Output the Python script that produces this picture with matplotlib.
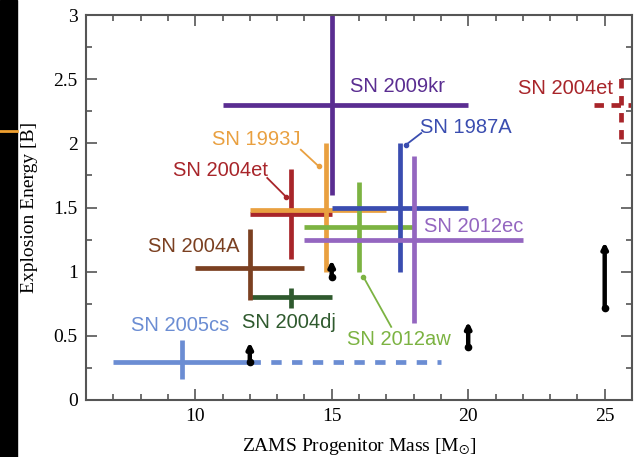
import numpy as np
import matplotlib
matplotlib.use("Agg")
import matplotlib.pyplot as plt
from matplotlib.patches import Rectangle
from matplotlib.lines import Line2D

plt.rcParams['mathtext.fontset'] = 'stix'

# progenitor mass / explosion energy estimates: centre, lower, upper
names   = ['SN 2005cs', 'SN 2004dj', 'SN 2004A', 'SN 2004et', 'SN 1993J',
           'SN 2009kr', 'SN 2012aw', 'SN 1987A', 'SN 2012ec']
mass    = [9.5, 13.5, 12.0, 13.5, 14.8, 15.0, 16.0, 17.5, 18.0]
mass_lo = [7.0, 12.0, 10.0, 12.0, 12.0, 11.0, 14.0, 15.0, 14.0]
mass_hi = [12.0, 15.0, 14.0, 15.0, 17.0, 20.0, 18.0, 20.0, 22.0]
ener    = [0.30, 0.80, 1.03, 1.45, 1.48, 2.30, 1.35, 1.50, 1.25]
ener_lo = [0.16, 0.72, 0.78, 1.10, 1.00, 1.60, 1.00, 1.00, 0.60]
ener_hi = [0.47, 0.87, 1.33, 1.80, 2.00, 3.00, 1.70, 2.00, 1.90]
colors  = ['#6b8dd3', '#2f5a2e', '#7b4021', '#a8252a', '#e9a040',
           '#5a2d91', '#7cb342', '#3a4db0', '#9466c0']

# label positions and leader lines (None = no leader)
lab_x   = [9.46, 13.43, 9.95, 10.93, 12.25, 17.4, 17.47, 19.93, 20.19]
lab_y   = [0.58, 0.60, 1.20, 1.79, 2.03, 2.44, 0.475, 2.12, 1.35]
lead    = [None, None, None,
           ((13.32, 1.585), (12.64, 1.73)),
           ((14.53, 1.82), (13.87, 1.95)),
           None,
           ((16.16, 0.96), (17.18, 0.57)),
           ((17.73, 1.99), (18.28, 2.08)),
           None]

# 2005cs extended mass range (dashed)
cs_ext = [12.0, 19.0]

# alternative 2004et estimate (dashed cross)
et2_m, et2_mlo, et2_mhi = 25.6, 24.6, 26.2
et2_e, et2_elo, et2_ehi = 2.30, 2.03, 2.55

# lower limits on explosion energy
lim_m    = [12.0, 15.0, 20.0, 25.0]
lim_base = [0.30, 0.96, 0.41, 0.72]
lim_top  = [0.45, 1.09, 0.61, 1.23]

fig = plt.figure(figsize=(6.34, 4.57), dpi=100)
ax = fig.add_axes([86/634, 57/457, 546/634, 385/457])

lw = 3.4
for i in range(len(names)):
    c = colors[i]
    ax.plot([mass_lo[i], mass_hi[i]], [ener[i], ener[i]], color=c, lw=lw,
            solid_capstyle='butt')
    ax.plot([mass[i], mass[i]], [ener_lo[i], ener_hi[i]], color=c, lw=lw,
            solid_capstyle='butt')
    ax.text(lab_x[i], lab_y[i], names[i], color=c, fontsize=14.5,
            family='Liberation Sans', ha='center', va='center')
    if lead[i] is not None:
        (x0, y0), (x1, y1) = lead[i]
        ax.plot([x0, x1], [y0, y1], color=c, lw=1.3)
        ax.plot(x0, y0, 'o', color=c, ms=3)

ax.plot(cs_ext, [ener[0], ener[0]], color=colors[0], lw=lw,
        dashes=[2.2, 2.2], dash_capstyle='butt')

red = colors[3]
ax.plot([et2_mlo, et2_mhi], [et2_e, et2_e], color=red, lw=lw,
        dashes=[2.0, 1.6], dash_capstyle='butt')
ax.plot([et2_m, et2_m], [et2_elo, et2_ehi], color=red, lw=lw,
        dashes=[2.0, 1.6], dash_capstyle='butt')
ax.text(23.57, 2.43, 'SN 2004et', color=red, fontsize=14.5,
        family='Liberation Sans', ha='center', va='center')

for m, b, t in zip(lim_m, lim_base, lim_top):
    ax.annotate('', xy=(m, t), xytext=(m, b),
                arrowprops=dict(arrowstyle='-|>', color='k', lw=3.2,
                                mutation_scale=8, shrinkA=0, shrinkB=0))
    ax.plot(m, b, 'o', color='k', ms=4.5)

ax.set_xlim(6, 26)
ax.set_ylim(0, 3)
ax.set_xticks([10, 15, 20, 25])
ax.set_xticks(np.arange(6, 27, 1), minor=True)
ax.set_yticks(np.arange(0, 3.01, 0.5))
ax.set_yticks(np.arange(0, 3.01, 0.25), minor=True)
ax.set_yticklabels(['0', '0.5', '1', '1.5', '2', '2.5', '3'])
ax.tick_params(which='both', direction='in', top=True, right=True,
               color='#555555', width=1.2)
ax.tick_params(which='major', length=8, labelsize=14, pad=6)
ax.tick_params(which='minor', length=4)
for lab in ax.get_xticklabels() + ax.get_yticklabels():
    lab.set_family('Liberation Serif')
for s in ax.spines.values():
    s.set_color('#555555')
    s.set_linewidth(1.5)

ax.set_xlabel(r'ZAMS Progenitor Mass [M$_{\odot}$]', family='Liberation Serif',
              fontsize=14, labelpad=8)
ax.set_ylabel('Explosion Energy [B]', family='Liberation Serif', fontsize=14,
              labelpad=11)

# slide edge on the left
fig.patches.append(Rectangle((0, 0), 17/634, 1, transform=fig.transFigure,
                             color='black', zorder=0))
fig.lines.append(Line2D([0, 17/634], [1 - 131/457] * 2,
                        transform=fig.transFigure, color='#f0a030', lw=2))

fig.savefig('out.png', dpi=100)
